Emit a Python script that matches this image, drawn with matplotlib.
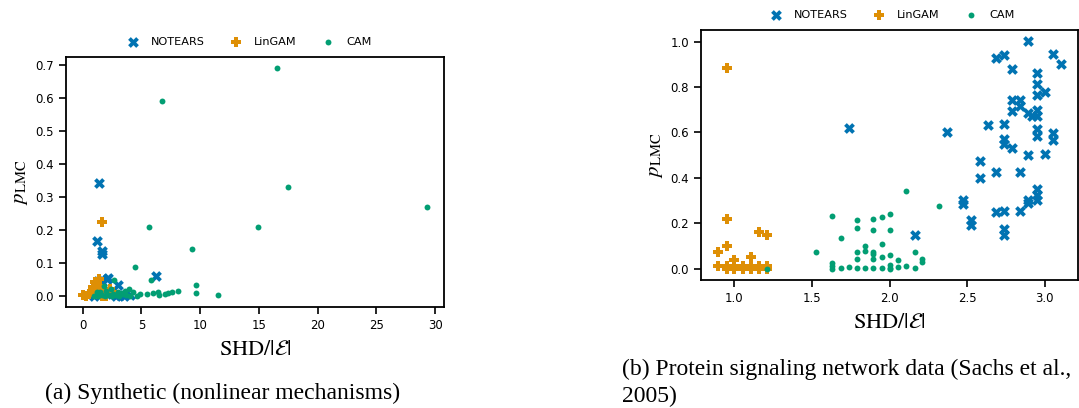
import matplotlib
matplotlib.use("Agg")
import matplotlib.pyplot as plt

plt.rcParams['mathtext.fontset'] = 'stix'
plt.rcParams['font.family'] = 'DejaVu Sans'

blue = '#0173b2'
orange = '#de8f05'
green = '#029e73'

# ---- (a) synthetic ----
notears_a_x = [1.39, 1.25, 1.67, 1.67, 6.23, 2.13, 2.05, 3.0, 1.67, 1.3, 1.2, 1.5, 2.5, 3.2, 2.8, 1.0, 2.2, 4.0, 3.5]
notears_a_y = [0.342, 0.166, 0.135, 0.126, 0.060, 0.054, 0.050, 0.032, 0.040, 0.045, 0.010, 0.020, 0.005, 0.003, 0.0, 0.0, 0.012, 0.002, 0.0]
lingam_a_x = [1.67, 1.02, 0.9, 0.04, 0.5, 1.2, 1.5, 0.8, 1.3, 2.3, 2.6, 1.1, 1.8, 2.0, 0.3, 1.4, 1.6]
lingam_a_y = [0.222, 0.042, 0.027, 0.002, 0.005, 0.035, 0.030, 0.010, 0.015, 0.020, 0.012, 0.005, 0.008, 0.0, 0.0, 0.050, 0.0]
cam_a_x = [16.5, 6.79, 17.5, 29.3, 5.6, 14.9, 9.33, 4.43, 5.77, 2.7, 9.64, 9.64, 11.5, 8.1,
           7.6, 7.3, 7.0, 6.5, 6.4, 6.0, 3.95, 1.0, 1.3, 1.6, 1.9, 2.2, 2.5, 2.8, 3.1, 3.4,
           3.7, 4.0, 4.3, 4.6, 1.5, 2.0, 2.4, 3.0, 3.6, 5.5, 1.8, 2.6, 3.3, 4.9, 1.2]
cam_a_y = [0.689, 0.591, 0.330, 0.270, 0.208, 0.207, 0.142, 0.088, 0.046, 0.048, 0.031, 0.009, 0.002, 0.014,
           0.010, 0.007, 0.004, 0.002, 0.010, 0.008, 0.021, 0.0, 0.0, 0.002, 0.0, 0.003, 0.0, 0.001, 0.0, 0.005,
           0.002, 0.0, 0.010, 0.0, 0.010, 0.015, 0.020, 0.010, 0.015, 0.005, 0.030, 0.006, 0.008, 0.004, 0.012]

# ---- (b) protein signaling (Sachs) ----
notears_b_x = [2.893, 2.685, 2.734, 2.785, 3.054, 3.103, 2.946, 2.946, 2.946, 3.0, 2.788, 2.839, 2.788, 2.839,
               2.893, 2.914, 2.946, 2.946, 2.946, 2.946, 3.054, 3.054, 1.740, 2.369, 2.633, 2.734, 2.734,
               2.734, 2.788, 2.893, 3.0, 2.582, 2.582, 2.685, 2.839, 2.946, 2.946, 2.946, 2.893, 2.893,
               2.839, 2.685, 2.734, 2.470, 2.470, 2.524, 2.524, 2.734, 2.734, 2.161]
notears_b_y = [1.001, 0.926, 0.941, 0.881, 0.944, 0.900, 0.863, 0.812, 0.763, 0.779, 0.741, 0.741, 0.694, 0.716,
               0.684, 0.672, 0.701, 0.672, 0.613, 0.584, 0.599, 0.566, 0.621, 0.601, 0.631, 0.638, 0.569,
               0.547, 0.532, 0.500, 0.507, 0.476, 0.400, 0.425, 0.425, 0.351, 0.326, 0.304, 0.304, 0.290,
               0.254, 0.251, 0.254, 0.304, 0.285, 0.216, 0.194, 0.175, 0.150, 0.149]
lingam_b_x = [0.951, 0.951, 0.951, 0.895, 1.161, 1.212, 1.0, 1.105,
              0.895, 0.951, 1.0, 1.054, 1.105, 1.161, 1.212, 0.951, 1.0, 1.054, 1.105, 1.161, 1.212]
lingam_b_y = [0.885, 0.219, 0.099, 0.074, 0.160, 0.150, 0.040, 0.051,
              0.012, 0.012, 0.012, 0.012, 0.012, 0.012, 0.012, 0.0, 0.0, 0.0, 0.0, 0.0, 0.0]
cam_b_x = [1.526, 1.631, 1.685, 1.790, 1.790, 1.841, 1.790, 1.841, 1.790, 1.895, 1.948, 2.002, 1.895, 2.002,
           1.948, 1.895, 1.895, 1.895, 1.948, 2.002, 2.054, 2.105, 2.315, 2.161, 2.210, 2.210,
           1.212, 1.631, 1.631, 1.631, 1.685, 1.738, 1.790, 1.841, 1.895, 1.948, 2.002, 2.002, 2.002,
           2.054, 2.105, 2.161]
cam_b_y = [0.074, 0.232, 0.134, 0.216, 0.178, 0.101, 0.074, 0.076, 0.041, 0.219, 0.229, 0.240, 0.172, 0.169,
           0.109, 0.074, 0.063, 0.041, 0.053, 0.060, 0.038, 0.344, 0.276, 0.074, 0.043, 0.028,
           0.0, 0.023, 0.010, 0.0, 0.005, 0.008, 0.005, 0.005, 0.003, 0.005, 0.015, 0.005, 0.0,
           0.008, 0.010, 0.005]

panels = [
    (notears_a_x, notears_a_y, lingam_a_x, lingam_a_y, cam_a_x, cam_a_y, 0.478),
    (notears_b_x, notears_b_y, lingam_b_x, lingam_b_y, cam_b_x, cam_b_y, 0.5),
]

fig = plt.figure(figsize=(10.79, 4.08), dpi=100)
ax_a = fig.add_axes([0.0612, 0.2475, 0.3503, 0.6127])
ax_b = fig.add_axes([0.6497, 0.3137, 0.3494, 0.6127])

for ax, (nx, ny, lx, ly, cx, cy, leg_x) in zip([ax_a, ax_b], panels):
    ax.scatter(nx, ny, marker='X', s=60, color=blue, linewidths=0, label='NOTEARS')
    ax.scatter(lx, ly, marker='P', s=55, color=orange, linewidths=0, label='LinGAM')
    ax.scatter(cx, cy, marker='o', s=18, color=green, linewidths=0, label='CAM')
    ax.set_xlabel(r'$\mathrm{SHD}/|\mathcal{E}|$', fontsize=16, labelpad=5)
    ax.set_ylabel(r'$p_{\mathrm{LMC}}$', fontsize=15)
    ax.tick_params(labelsize=8.5, width=1.2, length=5)
    for sp in ax.spines.values():
        sp.set_linewidth(1.3)
    ax.legend(loc='lower center', bbox_to_anchor=(leg_x, 1.0), ncol=3, frameon=False,
              fontsize=8.1, columnspacing=1.8, handletextpad=0.6)

ax_a.set_xticks([0, 5, 10, 15, 20, 25, 30])

fig.text(45 / 1079, 1 - 393 / 408, '(a) Synthetic (nonlinear mechanisms)',
         family='Liberation Serif', fontsize=17, va='center', ha='left')
fig.text(622 / 1079, 1 - 369 / 408, '(b) Protein signaling network data (Sachs et al.,',
         family='Liberation Serif', fontsize=17, va='center', ha='left')
fig.text(622 / 1079, 1 - 396 / 408, '2005)',
         family='Liberation Serif', fontsize=17, va='center', ha='left')

fig.savefig('out.png', dpi=100)
